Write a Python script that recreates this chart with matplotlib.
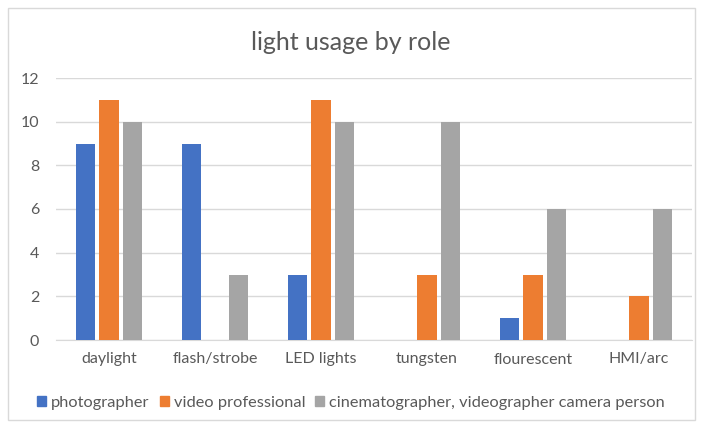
import matplotlib.pyplot as plt
import matplotlib.patches as mpatches
import numpy as np

plt.rcParams["font.family"] = ["Lato", "DejaVu Sans"]

categories = ["daylight", "flash/strobe", "LED lights", "tungsten", "flourescent", "HMI/arc"]
series_names = ["photographer", "video professional", "cinematographer, videographer camera person"]
photographer = [9, 9, 3, 0, 1, 0]
video_pro = [11, 0, 11, 3, 3, 2]
cinematographer = [10, 3, 10, 10, 6, 6]
colors = ["#4472C4", "#ED7D31", "#A5A5A5"]

fig = plt.figure(figsize=(7.02, 4.30), dpi=100)
# light frame around the whole chart
fig.patches.append(mpatches.Rectangle((8 / 702, 10 / 430), 687 / 702, 412 / 430,
                                      transform=fig.transFigure, fill=False,
                                      edgecolor="#D9D9D9", linewidth=1))
ax = fig.add_axes([56 / 702, 90 / 430, 636 / 702, 262 / 430])

x = np.arange(len(categories))
width = 0.18
offsets = [-0.225, 0, 0.225]
for vals, name, col, off in zip([photographer, video_pro, cinematographer], series_names, colors, offsets):
    ax.bar(x + off, vals, width, color=col, label=name, zorder=3)

ax.set_xlim(-0.5, len(categories) - 0.5)
ax.set_ylim(0, 12)
ax.set_yticks(range(0, 13, 2))
ax.set_xticks(x)
ax.set_xticklabels(categories)
ax.grid(axis="y", color="#D9D9D9", linewidth=1, zorder=0)
for s in ["top", "right", "left"]:
    ax.spines[s].set_visible(False)
ax.spines["bottom"].set_color("#D9D9D9")
ax.tick_params(axis="both", length=0, colors="#595959", labelsize=11.5)
ax.tick_params(axis="x", pad=9)
ax.tick_params(axis="y", pad=12)

fig.suptitle("light usage by role", y=1 - 42 / 430, va="center", fontsize=18, color="#595959")

handles = [mpatches.Patch(color=c) for c in colors]
fig.legend(handles, series_names, loc="center", bbox_to_anchor=(0.5, 1 - 403 / 430),
           ncol=3, frameon=False, fontsize=11.8, labelcolor="#595959",
           handlelength=0.55, handleheight=0.55, handletextpad=0.3, columnspacing=0.6)

fig.savefig("out.png", dpi=100)
